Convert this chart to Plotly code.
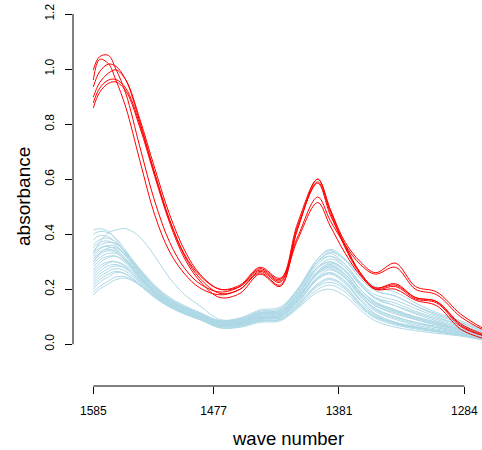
import plotly.graph_objects as go

# x positions are spectrum indices (wave number labels at indices 1, 97, 197, 297)
x_index = [1, 6, 13, 19, 27, 38, 50, 62, 74, 86, 102, 118, 134, 150, 164, 180, 190, 202, 214, 226, 242, 258, 275, 294, 313]
tick_index = [1, 97, 197, 297]
tick_labels = ["1585", "1477", "1381", "1284"]
y_ticks = [0.0, 0.2, 0.4, 0.6, 0.8, 1.0, 1.2]
y_tick_labels = ["0.0", "0.2", "0.4", "0.6", "0.8", "1.0", "1.2"]

red_spectra = [
    [0.997, 1.045, 1.05, 1.00, 0.91, 0.72, 0.52, 0.37, 0.275, 0.22, 0.19, 0.21, 0.275, 0.235, 0.44, 0.60, 0.49, 0.37, 0.30, 0.26, 0.295, 0.21, 0.19, 0.11, 0.055],
    [0.96, 1.035, 1.02, 0.96, 0.86, 0.67, 0.47, 0.335, 0.255, 0.205, 0.18, 0.20, 0.265, 0.225, 0.43, 0.585, 0.47, 0.36, 0.26, 0.205, 0.215, 0.17, 0.155, 0.07, 0.03],
    [0.935, 0.99, 1.018, 1.01, 0.96, 0.81, 0.62, 0.45, 0.325, 0.25, 0.20, 0.215, 0.28, 0.24, 0.39, 0.535, 0.45, 0.36, 0.29, 0.255, 0.28, 0.20, 0.18, 0.10, 0.05],
    [0.898, 0.95, 0.985, 0.997, 0.96, 0.82, 0.64, 0.47, 0.34, 0.255, 0.20, 0.21, 0.27, 0.23, 0.38, 0.515, 0.43, 0.33, 0.25, 0.20, 0.20, 0.16, 0.14, 0.055, 0.02],
    [0.877, 0.93, 0.96, 0.962, 0.93, 0.80, 0.62, 0.45, 0.32, 0.24, 0.185, 0.20, 0.26, 0.215, 0.42, 0.59, 0.48, 0.35, 0.255, 0.20, 0.21, 0.165, 0.15, 0.065, 0.03],
    [0.859, 0.915, 0.948, 0.953, 0.92, 0.79, 0.61, 0.44, 0.31, 0.23, 0.17, 0.185, 0.255, 0.21, 0.42, 0.60, 0.49, 0.355, 0.26, 0.205, 0.22, 0.17, 0.155, 0.075, 0.035],
]

blue_spectra = [
    [0.415, 0.42, 0.41, 0.38, 0.33, 0.26, 0.20, 0.16, 0.13, 0.11, 0.085, 0.09, 0.115, 0.12, 0.19, 0.30, 0.33, 0.29, 0.22, 0.17, 0.14, 0.11, 0.085, 0.06, 0.035],
    [0.40, 0.41, 0.405, 0.385, 0.34, 0.27, 0.21, 0.165, 0.135, 0.115, 0.085, 0.095, 0.12, 0.13, 0.20, 0.31, 0.345, 0.31, 0.25, 0.21, 0.19, 0.15, 0.115, 0.085, 0.05],
    [0.33, 0.37, 0.405, 0.415, 0.42, 0.39, 0.32, 0.24, 0.18, 0.14, 0.09, 0.095, 0.125, 0.135, 0.20, 0.30, 0.32, 0.28, 0.215, 0.17, 0.15, 0.12, 0.095, 0.07, 0.04],
    [0.38, 0.395, 0.39, 0.37, 0.33, 0.265, 0.205, 0.16, 0.13, 0.105, 0.08, 0.09, 0.11, 0.115, 0.17, 0.26, 0.28, 0.245, 0.18, 0.13, 0.10, 0.08, 0.065, 0.045, 0.025],
    [0.36, 0.38, 0.385, 0.37, 0.335, 0.27, 0.21, 0.165, 0.135, 0.11, 0.08, 0.085, 0.11, 0.115, 0.18, 0.28, 0.30, 0.265, 0.20, 0.15, 0.12, 0.095, 0.075, 0.05, 0.03],
    [0.35, 0.37, 0.375, 0.36, 0.32, 0.255, 0.195, 0.155, 0.125, 0.10, 0.07, 0.075, 0.095, 0.10, 0.15, 0.235, 0.255, 0.22, 0.16, 0.11, 0.08, 0.062, 0.05, 0.036, 0.018],
    [0.34, 0.36, 0.37, 0.365, 0.335, 0.275, 0.215, 0.17, 0.14, 0.115, 0.085, 0.09, 0.115, 0.125, 0.20, 0.31, 0.34, 0.305, 0.24, 0.195, 0.175, 0.14, 0.105, 0.078, 0.045],
    [0.33, 0.35, 0.355, 0.345, 0.31, 0.25, 0.19, 0.15, 0.12, 0.10, 0.07, 0.075, 0.095, 0.10, 0.155, 0.24, 0.26, 0.225, 0.16, 0.11, 0.08, 0.065, 0.05, 0.035, 0.018],
    [0.32, 0.345, 0.36, 0.355, 0.325, 0.265, 0.205, 0.16, 0.13, 0.105, 0.08, 0.085, 0.105, 0.11, 0.175, 0.275, 0.30, 0.27, 0.20, 0.155, 0.125, 0.10, 0.08, 0.055, 0.03],
    [0.31, 0.335, 0.345, 0.34, 0.31, 0.25, 0.19, 0.15, 0.12, 0.10, 0.075, 0.08, 0.10, 0.105, 0.165, 0.26, 0.285, 0.25, 0.185, 0.14, 0.11, 0.09, 0.07, 0.05, 0.028],
    [0.30, 0.325, 0.34, 0.335, 0.305, 0.245, 0.185, 0.145, 0.115, 0.095, 0.07, 0.075, 0.095, 0.10, 0.16, 0.255, 0.275, 0.24, 0.175, 0.125, 0.095, 0.075, 0.06, 0.042, 0.022],
    [0.29, 0.315, 0.33, 0.33, 0.305, 0.25, 0.195, 0.155, 0.125, 0.105, 0.08, 0.085, 0.11, 0.12, 0.185, 0.29, 0.32, 0.29, 0.225, 0.18, 0.16, 0.13, 0.10, 0.07, 0.04],
    [0.28, 0.305, 0.32, 0.32, 0.295, 0.24, 0.185, 0.145, 0.115, 0.095, 0.07, 0.075, 0.095, 0.10, 0.155, 0.24, 0.26, 0.23, 0.165, 0.12, 0.09, 0.07, 0.055, 0.04, 0.02],
    [0.27, 0.295, 0.315, 0.32, 0.30, 0.245, 0.19, 0.15, 0.12, 0.10, 0.075, 0.08, 0.10, 0.105, 0.165, 0.265, 0.29, 0.255, 0.19, 0.14, 0.115, 0.09, 0.07, 0.05, 0.028],
    [0.26, 0.285, 0.30, 0.30, 0.28, 0.23, 0.18, 0.14, 0.115, 0.095, 0.065, 0.07, 0.09, 0.095, 0.145, 0.22, 0.24, 0.21, 0.15, 0.105, 0.075, 0.06, 0.048, 0.035, 0.018],
    [0.25, 0.275, 0.295, 0.30, 0.285, 0.24, 0.19, 0.15, 0.12, 0.10, 0.075, 0.08, 0.105, 0.115, 0.18, 0.28, 0.31, 0.28, 0.215, 0.165, 0.14, 0.115, 0.09, 0.065, 0.038],
    [0.24, 0.265, 0.285, 0.29, 0.275, 0.23, 0.18, 0.14, 0.115, 0.095, 0.065, 0.068, 0.085, 0.09, 0.135, 0.20, 0.215, 0.19, 0.135, 0.095, 0.07, 0.056, 0.045, 0.032, 0.016],
    [0.23, 0.255, 0.275, 0.285, 0.275, 0.235, 0.185, 0.145, 0.12, 0.10, 0.075, 0.08, 0.10, 0.11, 0.17, 0.265, 0.295, 0.265, 0.20, 0.15, 0.125, 0.10, 0.08, 0.055, 0.032],
    [0.22, 0.245, 0.265, 0.275, 0.265, 0.225, 0.175, 0.14, 0.11, 0.09, 0.06, 0.065, 0.085, 0.09, 0.14, 0.215, 0.235, 0.205, 0.145, 0.10, 0.075, 0.06, 0.048, 0.034, 0.017],
    [0.21, 0.235, 0.255, 0.265, 0.255, 0.215, 0.17, 0.135, 0.11, 0.09, 0.065, 0.07, 0.09, 0.10, 0.155, 0.245, 0.27, 0.24, 0.175, 0.13, 0.10, 0.08, 0.062, 0.045, 0.025],
    [0.20, 0.225, 0.245, 0.26, 0.255, 0.22, 0.175, 0.14, 0.115, 0.095, 0.07, 0.075, 0.095, 0.105, 0.165, 0.26, 0.285, 0.255, 0.19, 0.145, 0.12, 0.095, 0.075, 0.052, 0.03],
    [0.19, 0.21, 0.23, 0.245, 0.245, 0.215, 0.17, 0.135, 0.11, 0.09, 0.06, 0.062, 0.08, 0.085, 0.13, 0.19, 0.20, 0.175, 0.125, 0.085, 0.062, 0.05, 0.04, 0.03, 0.015],
    [0.30, 0.33, 0.35, 0.35, 0.32, 0.26, 0.20, 0.16, 0.13, 0.11, 0.085, 0.09, 0.115, 0.125, 0.195, 0.30, 0.335, 0.305, 0.24, 0.195, 0.175, 0.14, 0.11, 0.08, 0.045],
    [0.18, 0.20, 0.22, 0.235, 0.24, 0.215, 0.175, 0.14, 0.115, 0.095, 0.065, 0.068, 0.085, 0.09, 0.14, 0.21, 0.225, 0.20, 0.14, 0.10, 0.078, 0.062, 0.05, 0.036, 0.018],
]

RED = "#FF0000"
LIGHTBLUE = "#ADD8E6"
FONT = "Liberation Sans, Arial, Helvetica, sans-serif"

fig = go.Figure()
for ys in blue_spectra:
    fig.add_trace(go.Scatter(x=x_index, y=ys, mode="lines",
                             line=dict(color=LIGHTBLUE, width=1, shape="spline", smoothing=1.0),
                             showlegend=False, hoverinfo="skip"))
for ys in red_spectra:
    fig.add_trace(go.Scatter(x=x_index, y=ys, mode="lines",
                             line=dict(color=RED, width=1, shape="spline", smoothing=1.0),
                             showlegend=False, hoverinfo="skip"))

fig.update_layout(
    width=482, height=450,
    margin=dict(l=73, r=0, t=0, b=64),
    paper_bgcolor="white", plot_bgcolor="white",
    font=dict(family=FONT, color="black", size=12),
    xaxis=dict(range=[-15.2, 311.1], showgrid=False, zeroline=False, showline=False,
               tickmode="array", tickvals=tick_index, ticktext=tick_labels,
               ticks="outside", ticklen=7, tickwidth=1, tickcolor="black",
               ticklabelstandoff=7,
               tickfont=dict(size=12, family=FONT)),
    yaxis=dict(range=[-0.1515, 1.2509], showgrid=False, zeroline=False, showline=False,
               tickmode="array", tickvals=y_ticks, ticktext=y_tick_labels,
               ticks="outside", ticklen=7, tickwidth=1, tickcolor="black",
               ticklabelstandoff=6,
               tickangle=-90, tickfont=dict(size=12, family=FONT)),
    shapes=[
        dict(type="line", xref="x", yref="paper", x0=tick_index[0], x1=tick_index[-1], y0=0, y1=0,
             line=dict(color="black", width=1)),
        dict(type="line", xref="paper", yref="y", x0=0, x1=0, y0=y_ticks[0], y1=y_ticks[-1],
             line=dict(color="black", width=1)),
    ],
    annotations=[
        dict(text="wave number", xref="paper", yref="paper", x=(288 - 73) / 409, y=-52 / 386,
             showarrow=False, font=dict(size=18.5, family=FONT), xanchor="center", yanchor="middle"),
        dict(text="absorbance", xref="paper", yref="paper", x=(23 - 73) / 409, y=1 - 197 / 386,
             showarrow=False, textangle=-90, font=dict(size=19, family=FONT),
             xanchor="center", yanchor="middle"),
    ],
)

fig.write_html("out.html")
